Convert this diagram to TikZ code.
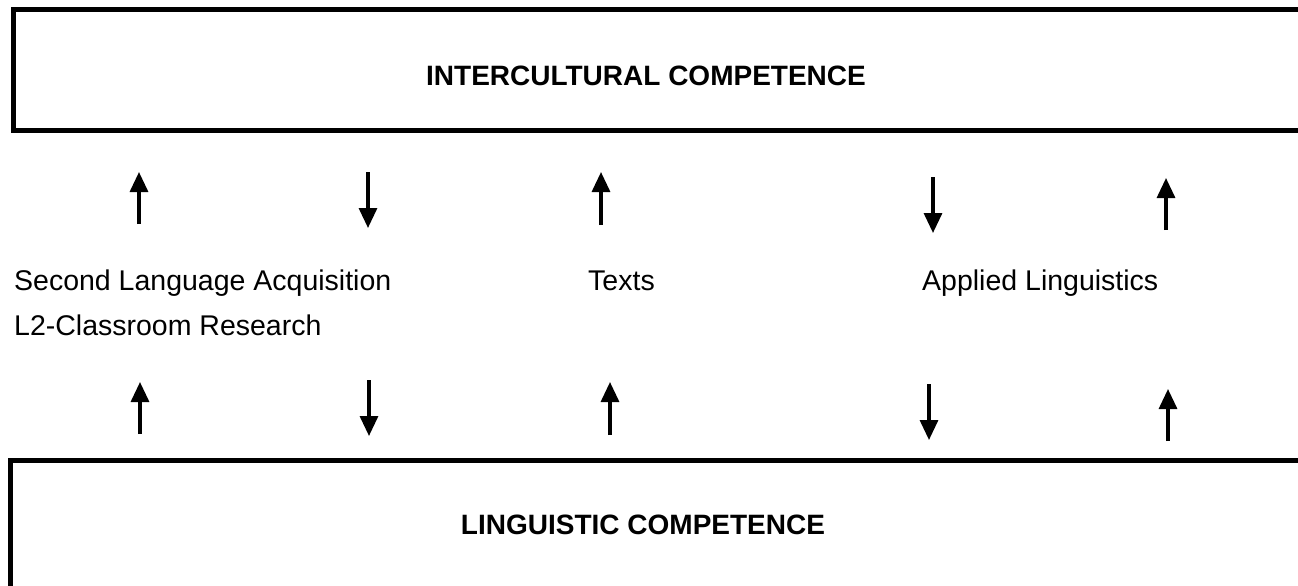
\documentclass[tikz,border=0pt]{standalone}
\usepackage{fontspec}
\setmainfont{Liberation Sans}
\usetikzlibrary{arrows.meta}
\begin{document}
\begin{tikzpicture}[x=1pt,y=-1pt,
  frame/.style={draw=black,line width=5pt},
  title/.style={font=\fontsize{28}{32}\selectfont\bfseries,inner sep=0pt},
  label/.style={font=\fontsize{28.5}{45}\selectfont,inner sep=0pt,anchor=base west,align=left},
  arr/.style={line width=3.2pt,-{Triangle[length=20pt,width=18pt]}}]
\useasboundingbox (0,0) rectangle (1298,586);
\clip (0,0) rectangle (1298,586);
\fill[white] (0,0) rectangle (1298,586);
% boxes
\draw[frame] (13,9.5) rectangle (1320,130.5);
\node[title] (ic) at (646,76) {INTERCULTURAL COMPETENCE};
\draw[frame] (10,460) rectangle (1320,620);
\node[title] (lc) at (643,525) {LINGUISTIC COMPETENCE};
% labels
\node[label] (sla) at (14,335) {Second Language Acquisition\\L2-Classroom Research};
\node[label] (tx) at (588,290) {Texts};
\node[label] (al) at (922,290) {Applied Linguistics};
% arrow end points
\coordinate (a1s) at (139,224); \coordinate (a1e) at (139,172);
\coordinate (a2s) at (368,172); \coordinate (a2e) at (368,228);
\coordinate (a3s) at (601,225); \coordinate (a3e) at (601,172);
\coordinate (a4s) at (933,177); \coordinate (a4e) at (933,233);
\coordinate (a5s) at (1166,230); \coordinate (a5e) at (1166,178);
\coordinate (b1s) at (140,434); \coordinate (b1e) at (140,382);
\coordinate (b2s) at (369,380); \coordinate (b2e) at (369,436);
\coordinate (b3s) at (610,435); \coordinate (b3e) at (610,382);
\coordinate (b4s) at (929,384); \coordinate (b4e) at (929,440);
\coordinate (b5s) at (1168,441); \coordinate (b5e) at (1168,389);
\draw[arr] (a1s) -- (a1e);
\draw[arr] (a2s) -- (a2e);
\draw[arr] (a3s) -- (a3e);
\draw[arr] (a4s) -- (a4e);
\draw[arr] (a5s) -- (a5e);
\draw[arr] (b1s) -- (b1e);
\draw[arr] (b2s) -- (b2e);
\draw[arr] (b3s) -- (b3e);
\draw[arr] (b4s) -- (b4e);
\draw[arr] (b5s) -- (b5e);
\end{tikzpicture}
\end{document}
